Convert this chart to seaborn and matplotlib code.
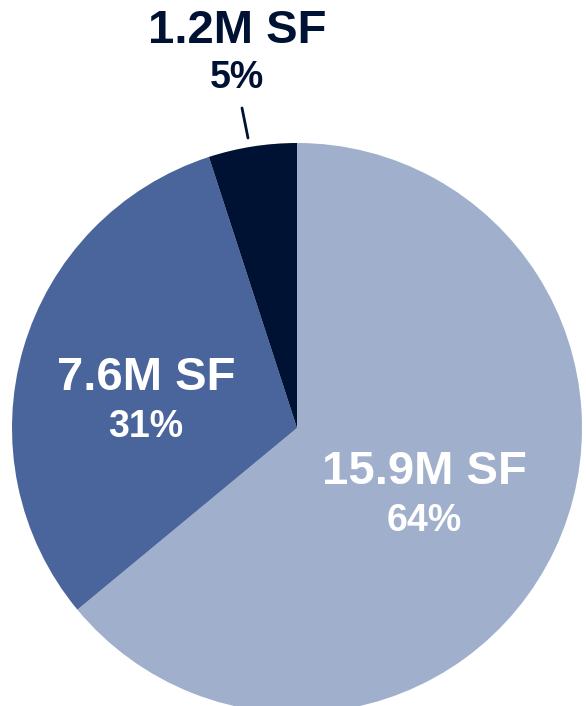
import matplotlib
matplotlib.use("Agg")
import matplotlib.pyplot as plt
import seaborn as sns

sns.set_theme(style="white")
plt.rcParams['font.family'] = ['Liberation Sans', 'DejaVu Sans']

categories = ["Segment A", "Segment B", "Segment C"]
shares = [64, 31, 5]
sf_labels = ["15.9M SF", "7.6M SF", "1.2M SF"]
pct_labels = ["64%", "31%", "5%"]
colors = ["#A0AFCB", "#4A659B", "#001233"]

W, H = 586, 706
fig = plt.figure(figsize=(W / 100, H / 100), dpi=100)
cx, cy, r = 297, 428, 285
ax = fig.add_axes([(cx - r) / W, (H - cy - r) / H, 2 * r / W, 2 * r / H])
ax.pie(shares, colors=colors, startangle=90, counterclock=False,
       wedgeprops=dict(linewidth=0), radius=1)
ax.set_xlim(-1, 1)
ax.set_ylim(-1, 1)
ax.set_aspect("equal")
ax.axis("off")

def d(px, py):
    return ((px - cx) / r, (cy - py) / r)

pos = [(424, 472, 521), (146, 378, 427), (237, 31, 78)]
txtcol = ["white", "white", "#001233"]
for i in range(3):
    x, y1 = d(pos[i][0], pos[i][1])
    _, y2 = d(pos[i][0], pos[i][2])
    ax.text(x, y1, sf_labels[i], ha="center", va="center", fontsize=34,
            fontweight="bold", color=txtcol[i], clip_on=False)
    ax.text(x, y2, pct_labels[i], ha="center", va="center", fontsize=27,
            fontweight="bold", color=txtcol[i], clip_on=False)

# leader line for small slice
(x0, y0), (x1, y1) = d(242, 108), d(248, 138)
ax.plot([x0, x1], [y0, y1], color="#001233", lw=2, clip_on=False)

fig.savefig("out.png", dpi=100, facecolor="white")
